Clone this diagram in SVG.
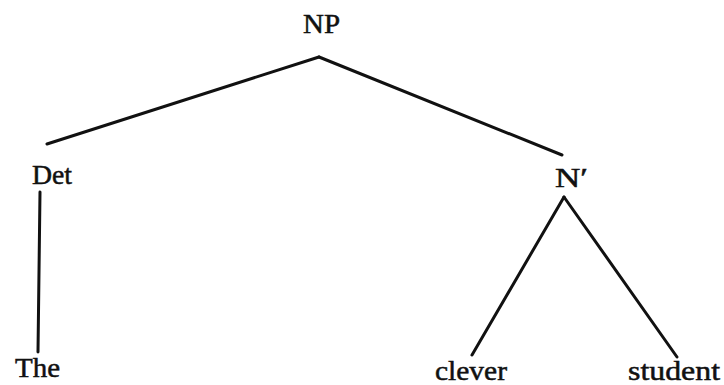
<svg xmlns="http://www.w3.org/2000/svg" width="724" height="385" viewBox="0 0 724 385">
<style>
text{font-family:"Liberation Serif","DejaVu Serif",serif;font-size:27px;fill:#111;stroke:#111;stroke-width:0.5}
.e line{stroke:#111;stroke-width:3;stroke-linecap:round}
</style>
<rect width="724" height="385" fill="#fff"/>
<g class="e" id="edges">
<line x1="319" y1="57" x2="47" y2="144"/>
<line x1="319" y1="57" x2="562" y2="155"/>
<line x1="40" y1="192" x2="38" y2="352"/>
<line x1="564" y1="197" x2="472" y2="355"/>
<line x1="564" y1="197" x2="677" y2="357"/>
</g>
<g id="np"><text x="303" y="33" textLength="37" lengthAdjust="spacingAndGlyphs">NP</text></g>
<g id="det"><text x="32" y="184" textLength="40" lengthAdjust="spacingAndGlyphs">Det</text></g>
<g id="nbar"><text x="555" y="187" textLength="33" lengthAdjust="spacingAndGlyphs">N′</text></g>
<g id="the"><text x="15" y="377" textLength="45" lengthAdjust="spacingAndGlyphs">The</text></g>
<g id="clever"><text x="435" y="380" textLength="72" lengthAdjust="spacingAndGlyphs">clever</text></g>
<g id="student"><text x="628" y="380" textLength="92" lengthAdjust="spacingAndGlyphs">student</text></g>
</svg>
